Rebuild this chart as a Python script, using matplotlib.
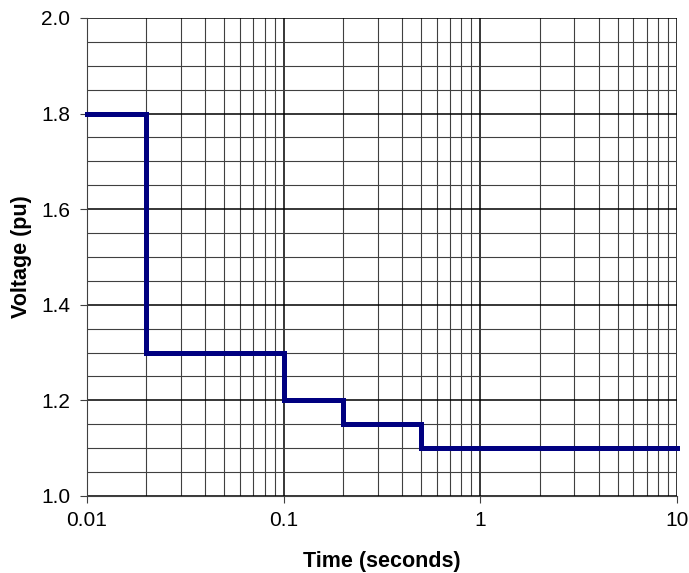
import matplotlib
matplotlib.use("Agg")
import matplotlib.pyplot as plt
from matplotlib.ticker import MultipleLocator, LogLocator, NullFormatter

plt.rcParams['font.family'] = ['Liberation Sans', 'DejaVu Sans']

time_s = [0.01, 0.02, 0.02, 0.1, 0.1, 0.2, 0.2, 0.5, 0.5, 10]
voltage_pu = [1.8, 1.8, 1.3, 1.3, 1.2, 1.2, 1.15, 1.15, 1.1, 1.1]
x_ticks = [0.01, 0.1, 1, 10]
x_labels = ['0.01', '0.1', '1', '10']
y_ticks = [1.0, 1.2, 1.4, 1.6, 1.8, 2.0]

fig = plt.figure(figsize=(6.89, 5.73), dpi=100)
ax = fig.add_axes([0.1263, 0.1344, 0.8563, 0.8342])

ax.plot(time_s, voltage_pu, color='#000080', linewidth=3.6, solid_joinstyle='miter', zorder=5, clip_on=False)

ax.set_xscale('log')
ax.set_xlim(0.01, 10)
ax.set_ylim(1.0, 2.0)
ax.set_xticks(x_ticks)
ax.set_xticklabels(x_labels)
ax.xaxis.set_minor_locator(LogLocator(base=10, subs=range(2, 10)))
ax.xaxis.set_minor_formatter(NullFormatter())
ax.set_yticks(y_ticks)
ax.set_yticklabels([f'{v:.1f}' for v in y_ticks])
ax.yaxis.set_minor_locator(MultipleLocator(0.05))

ax.grid(which='major', color='black', linewidth=1.1)
ax.grid(which='minor', color='#404040', linewidth=0.8)
ax.tick_params(which='major', direction='out', length=5, labelsize=15, color='#404040')
ax.tick_params(axis='x', which='major', pad=6)
ax.tick_params(axis='y', which='major', pad=7)
ax.tick_params(which='minor', length=0)
for s in ax.spines.values():
    s.set_visible(False)
ax.spines['left'].set_visible(True)
ax.spines['bottom'].set_visible(True)
ax.spines['left'].set_color('#404040')
ax.spines['bottom'].set_color('#404040')

ax.set_xlabel('Time (seconds)', fontsize=15.5, fontweight='bold', labelpad=15)
ax.set_ylabel('Voltage (pu)', fontsize=15.5, fontweight='bold', labelpad=7)

fig.savefig('out.png', dpi=100)
